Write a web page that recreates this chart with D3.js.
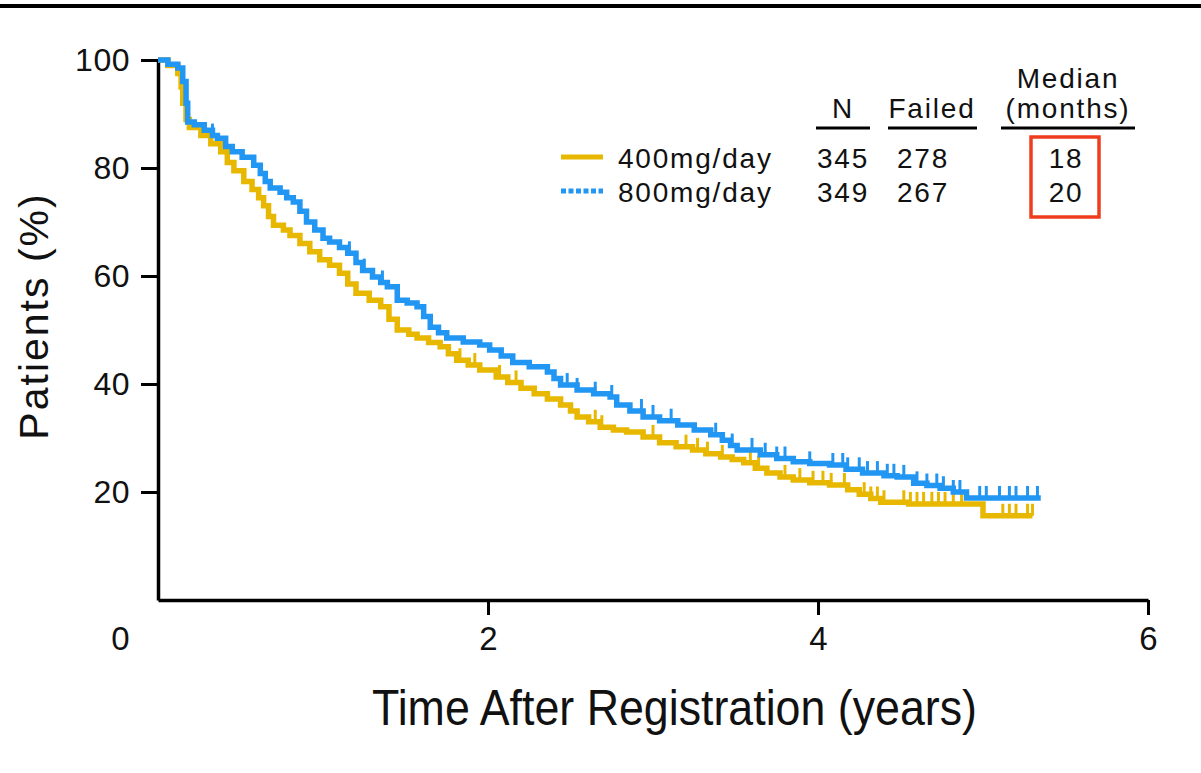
<!DOCTYPE html>
<html lang="en">
<head>
  <meta charset="UTF-8">
  <title>Time After Registration</title>
  <script src="https://d3js.org/d3.v7.min.js"></script>
  <style>
    body { margin: 0; background: #fff; font-family: "Liberation Sans", Arial, sans-serif; }
    svg text { fill: #111; }
    .xax .tick text { font-size: 33px; }
  </style>
</head>
<body>
  <div id="chart"></div>

  <script>
    // step points of the Kaplan-Meier curves: [years, % patients]
    const dose400 = [[0,100],[0.06,99],[0.12,97.5],[0.14,95],[0.15,92],[0.17,89],[0.19,87.5],[0.26,86],[0.32,84.5],[0.38,83],
      [0.42,81],[0.46,79.5],[0.52,77.5],[0.57,76],[0.61,74.5],[0.64,73],[0.67,71],[0.70,69.4],[0.76,68.5],[0.80,67.5],
      [0.86,66],[0.92,64.5],[0.98,63],[1.04,62],[1.10,60.5],[1.15,58.5],[1.20,56.8],[1.28,55.5],[1.35,54.3],[1.40,52],
      [1.45,50],[1.52,49.2],[1.57,48.5],[1.64,47.7],[1.71,46.9],[1.76,45.6],[1.81,44.4],[1.88,43.5],[1.95,42.6],[2.05,41.3],
      [2.12,40.3],[2.20,39.2],[2.28,38.2],[2.36,37.2],[2.44,36.1],[2.50,35],[2.54,33.9],[2.61,33],[2.68,32],[2.76,31.5],
      [2.84,31.1],[2.94,30.2],[3.04,29.1],[3.14,28.4],[3.24,27.8],[3.32,27.1],[3.41,26.5],[3.48,26],[3.55,25.4],[3.62,24.4],
      [3.69,23.5],[3.77,22.8],[3.85,22.2],[3.95,21.7],[4.07,21.3],[4.18,20.4],[4.25,19.6],[4.32,18.8],[4.38,18.1],[4.55,17.8],
      [5.0,15.6]];
    const dose800 = [[0,100],[0.06,99.2],[0.12,98.5],[0.15,96],[0.17,92],[0.18,88.5],[0.22,88],[0.28,87],[0.33,86],[0.36,85.5],
      [0.41,84],[0.45,83],[0.51,82],[0.58,80.5],[0.62,79],[0.65,77.5],[0.68,76.3],[0.74,75.5],[0.78,74.5],[0.82,73.7],
      [0.86,72],[0.90,70],[0.95,68.5],[1.00,67],[1.04,66.3],[1.10,65.3],[1.15,64.2],[1.20,62.5],[1.24,61],[1.30,59.8],
      [1.35,58.8],[1.39,58],[1.45,55.5],[1.51,55],[1.57,54.3],[1.61,52.5],[1.65,50.5],[1.70,49.5],[1.75,48.5],[1.85,47.8],
      [1.95,47.2],[2.01,46.3],[2.08,45.2],[2.15,44],[2.25,43.2],[2.36,42.2],[2.40,41],[2.44,39.8],[2.54,38.9],[2.64,38.2],
      [2.74,37.6],[2.78,36.1],[2.86,35],[2.94,33.9],[3.04,33.2],[3.15,32.4],[3.25,31.5],[3.35,30.6],[3.42,29.6],[3.47,28.6],
      [3.51,27.8],[3.65,26.9],[3.75,26.2],[3.85,25.6],[3.95,25.3],[4.07,25],[4.17,24.2],[4.27,23.5],[4.40,23],[4.48,22.8],
      [4.58,21.6],[4.66,21.2],[4.74,20.7],[4.82,20],[4.90,18.9]];
    const end400 = 5.30, end800 = 5.35;

    // censored observations (years)
    const censor400 = [1.83,1.92,2.07,2.17,2.65,2.69,3.0,3.2,3.27,3.33,3.42,3.59,3.64,3.8,3.89,3.97,4.03,4.08,4.16,4.28,
      4.32,4.36,4.4,4.52,4.56,4.6,4.64,4.69,4.73,4.77,4.82,4.87,5.12,5.16,5.2,5.27,5.3];
    const censor800 = [0.33,1.16,1.25,1.36,2.48,2.54,2.65,2.75,2.93,3.0,3.11,3.38,3.48,3.6,3.68,3.75,3.8,3.95,4.09,4.15,
      4.18,4.25,4.3,4.36,4.42,4.46,4.52,4.6,4.66,4.72,4.76,4.82,4.86,4.98,5.02,5.1,5.16,5.2,5.27,5.33];

    const yTicks = [20, 40, 60, 80, 100];
    const xTicks = [0, 2, 4, 6];

    const legendRows = [
      {label: "400mg/day", n: 345, failed: 278, median: 18},
      {label: "800mg/day", n: 349, failed: 267, median: 20}
    ];

    const W = 1201, H = 773;
    const col400 = "#e8b800", col800 = "#2196f3";

    const svg = d3.select("#chart").append("svg")
      .attr("width", W).attr("height", H);

    // rule at the top of the figure
    svg.append("rect").attr("x", 0).attr("y", 4).attr("width", W).attr("height", 4).attr("fill", "#000");

    const x = d3.scaleLinear().domain([0, 6]).range([158, 1148]);
    const y = d3.scaleLinear().domain([0, 100]).range([600, 60]);

    // axes
    const yAxis = svg.append("g").attr("transform", `translate(${x(0)},0)`)
      .call(d3.axisLeft(y).tickValues(yTicks).tickSize(17).tickSizeOuter(0).tickPadding(11));
    const xAxis = svg.append("g").attr("class", "xax").attr("transform", `translate(0,${y(0)})`)
      .call(d3.axisBottom(x).tickValues(xTicks).tickSize(15).tickSizeOuter(0).tickPadding(9).tickFormat(d3.format("d")));

    [yAxis, xAxis].forEach(g => {
      g.select(".domain").attr("stroke", "#000").attr("stroke-width", 3.5);
      g.selectAll(".tick line").attr("stroke", "#000").attr("stroke-width", 3);
      g.selectAll(".tick text").attr("fill", "#111")
        .style("font-family", '"Liberation Sans", Arial, sans-serif');
    });
    yAxis.selectAll(".tick text").style("font-size", "32px").style("letter-spacing", "0.5px");
    xAxis.selectAll(".tick text").attr("font-size", 33).attr("dy", "0.8em");
    // origin label sits left of the axis with no tick
    xAxis.selectAll(".tick").filter(d => d === 0).each(function() {
      d3.select(this).select("line").remove();
      d3.select(this).select("text").attr("x", -38);
    });

    // axis titles
    svg.append("text")
      .attr("transform", "translate(48,316) rotate(-90)")
      .attr("text-anchor", "middle")
      .style("font-size", "41px").style("letter-spacing", "2px")
      .text("Patients (%)");

    svg.append("text")
      .attr("x", 372).attr("y", 725)
      .attr("textLength", 605).attr("lengthAdjust", "spacingAndGlyphs")
      .style("font-family", '"Liberation Sans Narrow", "Liberation Sans", Arial, sans-serif')
      .style("font-size", "50px")
      .text("Time After Registration (years)");

    // KM step curves
    const line = d3.line().x(d => x(d[0])).y(d => y(d[1])).curve(d3.curveStepAfter);
    const bis = d3.bisector(d => d[0]).right;
    const survAt = (data, t) => data[Math.max(0, bis(data, t) - 1)][1];

    function drawCurve(data, end, censor, color) {
      const pts = data.concat([[end, data[data.length - 1][1]]]);
      svg.append("path").datum(pts)
        .attr("fill", "none").attr("stroke", color).attr("stroke-width", 5.5)
        .attr("d", line);
      svg.append("g").selectAll("line").data(censor).join("line")
        .attr("x1", d => x(d)).attr("x2", d => x(d))
        .attr("y1", d => y(survAt(data, d)))
        .attr("y2", d => y(survAt(data, d)) - 12)
        .attr("stroke", color).attr("stroke-width", 3);
    }
    drawCurve(dose400, end400, censor400, col400);
    drawCurve(dose800, end800, censor800, col800);

    // legend table
    const lg = svg.append("g").style("font-size", "28px").style("letter-spacing", "1.8px");
    const headers = [
      {t: "N", cx: 843, x1: 816, x2: 870},
      {t: "Failed", cx: 932, x1: 888, x2: 977},
      {t: "(months)", cx: 1068, x1: 1001, x2: 1135}
    ];
    headers.forEach(h => {
      lg.append("text").attr("x", h.cx).attr("y", 118).attr("text-anchor", "middle").text(h.t);
      lg.append("line").attr("x1", h.x1).attr("x2", h.x2).attr("y1", 128).attr("y2", 128)
        .attr("stroke", "#000").attr("stroke-width", 3);
    });
    lg.append("text").attr("x", 1068).attr("y", 88).attr("text-anchor", "middle").text("Median");

    const rowY = [168, 202];
    legendRows.forEach((r, i) => {
      const yy = rowY[i];
      lg.append("line").attr("x1", 561).attr("x2", 603).attr("y1", yy - 11).attr("y2", yy - 11)
        .attr("stroke", i === 0 ? col400 : col800).attr("stroke-width", 5)
        .attr("stroke-dasharray", i === 0 ? null : "5,2.5");
      lg.append("text").attr("x", 618).attr("y", yy).text(r.label);
      lg.append("text").attr("x", 843).attr("y", yy).attr("text-anchor", "middle").text(r.n);
      lg.append("text").attr("x", 923).attr("y", yy).attr("text-anchor", "middle").text(r.failed);
      lg.append("text").attr("x", 1066).attr("y", yy).attr("text-anchor", "middle").text(r.median);
    });

    // highlight box around the medians
    svg.append("rect").attr("x", 1031).attr("y", 137).attr("width", 68).attr("height", 80)
      .attr("fill", "none").attr("stroke", "#f03c1e").attr("stroke-width", 3.5);
  </script>
</body>
</html>
